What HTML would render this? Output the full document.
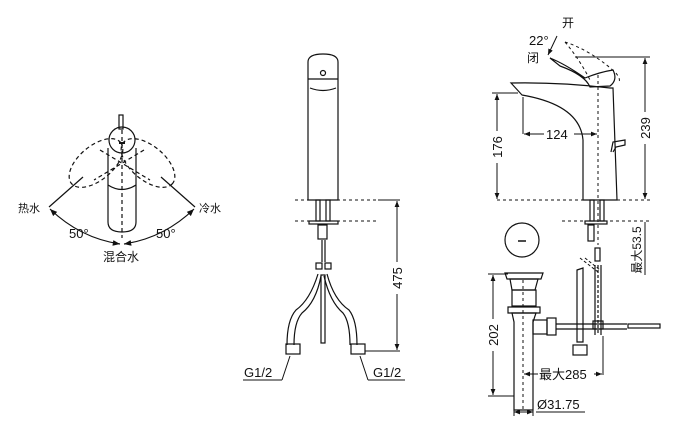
<!DOCTYPE html>
<html><head><meta charset="utf-8"><style>
html,body{margin:0;padding:0;background:#fff;}
svg{display:block;}
text{font-family:"Liberation Sans","Noto Sans CJK SC",sans-serif;fill:#111;}
</style></head><body>
<svg width="680" height="431" viewBox="0 0 680 431" xmlns="http://www.w3.org/2000/svg" fill="none" stroke="#111" stroke-width="1.2">
<defs>
<marker id="a" viewBox="0 0 10 10" refX="10" refY="5" markerWidth="6" markerHeight="6" orient="auto-start-reverse"><path d="M0,1 L10,5 L0,9 z" fill="#111" stroke="none"/></marker>
</defs>
<!-- LEFT VIEW -->
<rect x="119" y="115" width="4" height="14" fill="#fff"/>
<circle cx="122" cy="140" r="13"/>
<path d="M108,148 L108,222 Q108,232 122,232 Q136,232 136,222 L136,148"/>
<path d="M108,185 Q122,194 136,185"/>
<g stroke-dasharray="4,3">
<line x1="122" y1="130" x2="122" y2="238"/>
<ellipse cx="96" cy="163" rx="32" ry="17" transform="rotate(-40 96 163)"/>
<ellipse cx="148" cy="163" rx="32" ry="17" transform="rotate(40 148 163)"/>
<line x1="100" y1="150" x2="150" y2="180"/>
<line x1="144" y1="150" x2="94" y2="180"/>
</g>
<line x1="119" y1="143" x2="125" y2="143" stroke-width="2"/>
<line x1="83" y1="177" x2="49" y2="207"/>
<line x1="161" y1="177" x2="195" y2="207"/>
<path d="M50,209 Q80,238 120,244" marker-start="url(#a)" marker-end="url(#a)"/>
<path d="M124,244 Q164,238 194,209" marker-start="url(#a)" marker-end="url(#a)"/>
<text x="18" y="212" font-size="11" stroke="none">热水</text>
<text x="199" y="212" font-size="11" stroke="none">冷水</text>
<text x="69" y="238" font-size="13" stroke="none">50°</text>
<text x="156" y="238" font-size="13" stroke="none">50°</text>
<text x="103" y="261" font-size="12" stroke="none">混合水</text>

<!-- MIDDLE VIEW -->
<path d="M308,200 L308,62 Q308,54 323,54 Q338,54 338,62 L338,200 Z"/>
<path d="M308,79 L338,79"/><path d="M310,88 Q323,93 336,88"/>
<circle cx="323" cy="73" r="2.5"/>
<g stroke-dasharray="3,3" stroke-width="1"><line x1="295" y1="200" x2="378" y2="200"/><line x1="295" y1="221" x2="378" y2="221"/></g>
<line x1="378" y1="200" x2="400" y2="200" stroke-width="1"/>
<line x1="365" y1="351" x2="400" y2="351" stroke-width="1"/>
<line x1="397" y1="201" x2="397" y2="350" marker-start="url(#a)" marker-end="url(#a)" stroke-width="1"/>
<rect x="390" y="262" width="14" height="32" fill="#fff" stroke="none"/>
<text transform="translate(402,278) rotate(-90)" font-size="13" stroke="none" text-anchor="middle">475</text>
<rect x="316" y="200" width="4" height="21"/><rect x="326" y="200" width="4" height="21"/>
<rect x="309" y="221" width="29" height="3"/>
<rect x="318" y="225" width="9" height="14"/>
<line x1="322" y1="240" x2="322" y2="262"/><line x1="325" y1="240" x2="325" y2="262"/>
<rect x="316" y="263" width="6" height="6"/><rect x="325" y="263" width="6" height="6"/>
<path d="M318,274 Q310,300 296,310 Q287,320 287,345 M321,276 Q316,302 302,313 Q294,322 294,345"/>
<path d="M327,274 Q334,300 349,310 Q357,320 357,345 M324,276 Q330,302 343,313 Q350,322 350,345"/>
<rect x="321" y="275" width="4" height="68"/>
<rect x="286" y="344" width="14" height="10"/><rect x="351" y="344" width="14" height="10"/>
<line x1="290" y1="356" x2="282" y2="380" stroke-width="1"/><line x1="282" y1="380" x2="243" y2="380" stroke-width="1"/>
<line x1="360" y1="356" x2="368" y2="380" stroke-width="1"/><line x1="368" y1="380" x2="405" y2="380" stroke-width="1"/>
<text x="244" y="377" font-size="13" stroke="none">G1/2</text>
<text x="373" y="377" font-size="13" stroke="none">G1/2</text>

<!-- RIGHT VIEW -->
<path d="M511,83 Q560,82 610,88 L613,88 L617,200 L583,200 L583,140 Q580,105 522,95 Z"/>
<path d="M550,58 Q565,64 585,78 Q600,72 613,70 Q618,80 610,86 L590,87 Q585,75 560,66 Z"/>
<g stroke-dasharray="3,3" stroke-width="1">
<path d="M565,42 Q590,50 615,72 Q622,80 618,83 M565,42 Q580,60 590,80"/>
<line x1="598" y1="75" x2="598" y2="245"/>
<line x1="497" y1="200" x2="650" y2="200"/>
<line x1="562" y1="221" x2="650" y2="221"/>
</g>
<line x1="557" y1="36" x2="548" y2="55" marker-end="url(#a)" stroke-width="1"/>
<text x="562" y="27" font-size="12" stroke="none">开</text>
<text x="529" y="45" font-size="13" stroke="none">22°</text>
<text x="527" y="62" font-size="12" stroke="none">闭</text>
<line x1="575" y1="57" x2="650" y2="57" stroke-width="1"/>
<line x1="645" y1="58" x2="645" y2="199" marker-start="url(#a)" marker-end="url(#a)" stroke-width="1"/>
<line x1="645" y1="222" x2="645" y2="275" stroke-width="1"/>
<rect x="638" y="112" width="14" height="32" fill="#fff" stroke="none"/>
<text transform="translate(650,128) rotate(-90)" font-size="13" stroke="none" text-anchor="middle">239</text>
<text transform="translate(641,250) rotate(-90)" font-size="12" stroke="none" text-anchor="middle">最大53.5</text>
<line x1="492" y1="93" x2="518" y2="93" stroke-width="1"/>
<line x1="497" y1="94" x2="497" y2="199" marker-start="url(#a)" marker-end="url(#a)" stroke-width="1"/>
<rect x="490" y="131" width="14" height="32" fill="#fff" stroke="none"/>
<text transform="translate(502,147) rotate(-90)" font-size="13" stroke="none" text-anchor="middle">176</text>
<line x1="523" y1="97" x2="523" y2="134" stroke-width="1"/>
<line x1="524" y1="134" x2="597" y2="134" marker-start="url(#a)" marker-end="url(#a)" stroke-width="1"/>
<rect x="544" y="126" width="30" height="14" fill="#fff" stroke="none"/>
<text x="546" y="139" font-size="13" stroke="none">124</text>
<path d="M611,152 L613,142 L625,140 L625,145 L616,147 L613,152"/>
<rect x="590" y="200" width="4" height="21"/><rect x="600" y="200" width="4" height="21"/>
<rect x="585" y="221" width="22" height="3"/>
<rect x="588" y="225" width="6" height="16"/>
<rect x="595" y="248" width="5" height="13"/>
<line x1="598" y1="265" x2="598" y2="335" stroke-dasharray="3,2"/>
<line x1="595" y1="265" x2="595" y2="335"/><line x1="601" y1="265" x2="601" y2="335"/>
<path d="M580,258 L598,272" stroke-dasharray="3,2" stroke-width="1"/><path d="M585,258 L600,270" stroke-dasharray="3,2" stroke-width="1"/>
<path d="M577,270 L583,268 L583,342 L577,342 Z"/>
<rect x="573" y="345" width="14" height="10"/>
<circle cx="522" cy="240" r="17"/>
<line x1="518" y1="241" x2="526" y2="241" stroke-width="1.5"/>
<path d="M505,273 L543,273 L541,279 L507,279 Z"/>
<path d="M510,279 L538,279 L535,290 L512,290 Z"/>
<rect x="512" y="290" width="24" height="16"/>
<path d="M508,307 L540,307 L540,313 L508,313 Z"/>
<path d="M512,313 L536,313 L533,322 L533,410 L514,410 L514,322 Z"/>
<line x1="523" y1="280" x2="523" y2="410" stroke-dasharray="3,3" stroke-width="1"/>
<rect x="533" y="320" width="14" height="14"/><rect x="547" y="318" width="9" height="17"/>
<line x1="556" y1="324" x2="627" y2="324"/><line x1="556" y1="329" x2="627" y2="329"/>
<rect x="628" y="324" width="32" height="4"/>
<rect x="593" y="321" width="10" height="8"/>
<line x1="603" y1="336" x2="603" y2="375" stroke-width="1"/>
<line x1="488" y1="274" x2="508" y2="274" stroke-width="1"/>
<line x1="488" y1="396" x2="514" y2="396" stroke-width="1"/>
<line x1="493" y1="275" x2="493" y2="395" marker-start="url(#a)" marker-end="url(#a)" stroke-width="1"/>
<rect x="486" y="319" width="14" height="32" fill="#fff" stroke="none"/>
<text transform="translate(498,335) rotate(-90)" font-size="13" stroke="none" text-anchor="middle">202</text>
<line x1="524" y1="374" x2="602" y2="374" marker-start="url(#a)" marker-end="url(#a)" stroke-width="1"/>
<rect x="538" y="366" width="56" height="14" fill="#fff" stroke="none"/>
<text x="539" y="379" font-size="13" stroke="none">最大285</text>
<line x1="514" y1="410" x2="514" y2="416" stroke-width="1"/><line x1="533" y1="410" x2="533" y2="416" stroke-width="1"/>
<line x1="514" y1="412" x2="533" y2="412" marker-start="url(#a)" marker-end="url(#a)" stroke-width="1"/>
<line x1="536" y1="412" x2="585" y2="412" stroke-width="1"/>
<text x="537" y="409" font-size="13" stroke="none">Ø31.75</text>
</svg>
</body></html>
